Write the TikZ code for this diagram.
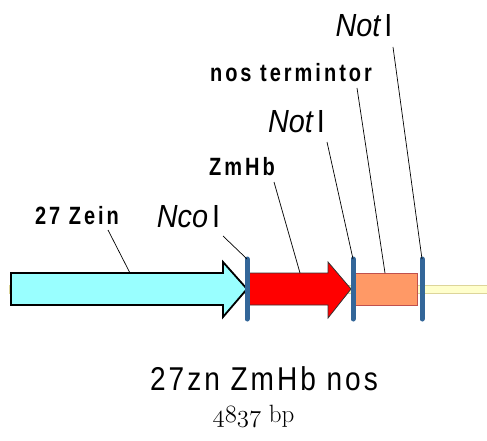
\documentclass[tikz,border=0pt]{standalone}
\usepackage{fontspec}
\setmainfont{Liberation Sans}
\newfontface\lblfont[FakeStretch=0.8,LetterSpace=12]{Liberation Sans Bold}
\newfontfamily\enzfont[FakeStretch=0.9]{Liberation Sans}
\newfontfamily\ttlfont[FakeStretch=0.85,LetterSpace=9]{Liberation Sans}
\newfontfamily\lmrfont{Latin Modern Roman}
\definecolor{cyanfill}{HTML}{99FFFF}
\definecolor{orfill}{HTML}{FF9966}
\definecolor{ordraw}{HTML}{C0504D}
\definecolor{barblue}{HTML}{336699}
\definecolor{bbfill}{HTML}{FFFFCC}
\definecolor{bbdraw}{HTML}{DDD59A}
\tikzset{
  featlabel/.style={inner sep=0pt, anchor=base, font=\fontsize{25}{29}\selectfont\lblfont},
  enzlabel/.style={inner sep=0pt, anchor=base, font=\fontsize{32}{36}\selectfont\enzfont},
  leader/.style={draw=black, line width=0.7pt},
  sitebar/.style={draw=barblue, line width=5pt, line cap=round},
}
\begin{document}
\begin{tikzpicture}[x=1pt,y=-1pt]
\useasboundingbox (0,0) rectangle (487,441);
% backbone
\draw[fill=bbfill, draw=bbdraw, line width=0.8pt] (9,285) rectangle (487,293);
% features
\draw[fill=cyanfill, draw=black, line width=1.8pt, line join=miter]
  (11,273) -- (223,273) -- (223,262) -- (247,289) -- (223,317) -- (223,305) -- (11,305) -- cycle;
\draw[fill=red, draw=black!80, line width=0.8pt]
  (249,273) -- (328,273) -- (328,262) -- (351,289) -- (328,318) -- (328,305) -- (249,305) -- cycle;
\draw[fill=orfill, draw=ordraw, line width=1pt] (355,273) rectangle (417,305);
% site bars
\coordinate (ncoT) at (247,259); \coordinate (ncoB) at (247,319);
\coordinate (not1T) at (353,259); \coordinate (not1B) at (353,319);
\coordinate (not2T) at (422,259); \coordinate (not2B) at (422,319);
\draw[sitebar] (ncoT) -- (ncoB);
\draw[sitebar] (not1T) -- (not1B);
\draw[sitebar] (not2T) -- (not2B);
% labels
\node[featlabel] (zein) at (77,224) {27 Zein};
\node[enzlabel] (nco) at (188.5,227) {\itshape Nco\upshape\kern4pt I};
\node[featlabel] (zmhb) at (242,175) {ZmHb};
\node[enzlabel] (not1) at (296.5,132) {\itshape Not\upshape\kern4pt I};
\node[featlabel] (nos) at (291,82) {nos termintor};
\node[enzlabel] (not2) at (364,37) {\itshape Not\upshape\kern4pt I};
\node[inner sep=0pt, anchor=base, font=\fontsize{33}{38}\selectfont\ttlfont] (title) at (264,390) {27zn ZmHb nos};
\node[inner sep=0pt, anchor=base, font=\fontsize{25}{29}\selectfont\lmrfont] (bp) at (253.5,422) {{\usefont{OML}{lmm}{m}{it}4837} bp};
% leader lines
\coordinate (zeinA) at (108,230); \coordinate (zeinB) at (130,273);
\coordinate (ncoA) at (223,236);
\coordinate (zmhbA) at (274,182); \coordinate (zmhbB) at (300,273);
\coordinate (not1A) at (327,142);
\coordinate (nosA) at (357,88); \coordinate (nosB) at (385,273);
\coordinate (not2A) at (393,47);
\draw[leader] (zeinA) -- (zeinB);
\draw[leader] (ncoA) -- (ncoT);
\draw[leader] (zmhbA) -- (zmhbB);
\draw[leader] (not1A) -- (not1T);
\draw[leader] (nosA) -- (nosB);
\draw[leader] (not2A) -- (not2T);
\end{tikzpicture}
\end{document}
